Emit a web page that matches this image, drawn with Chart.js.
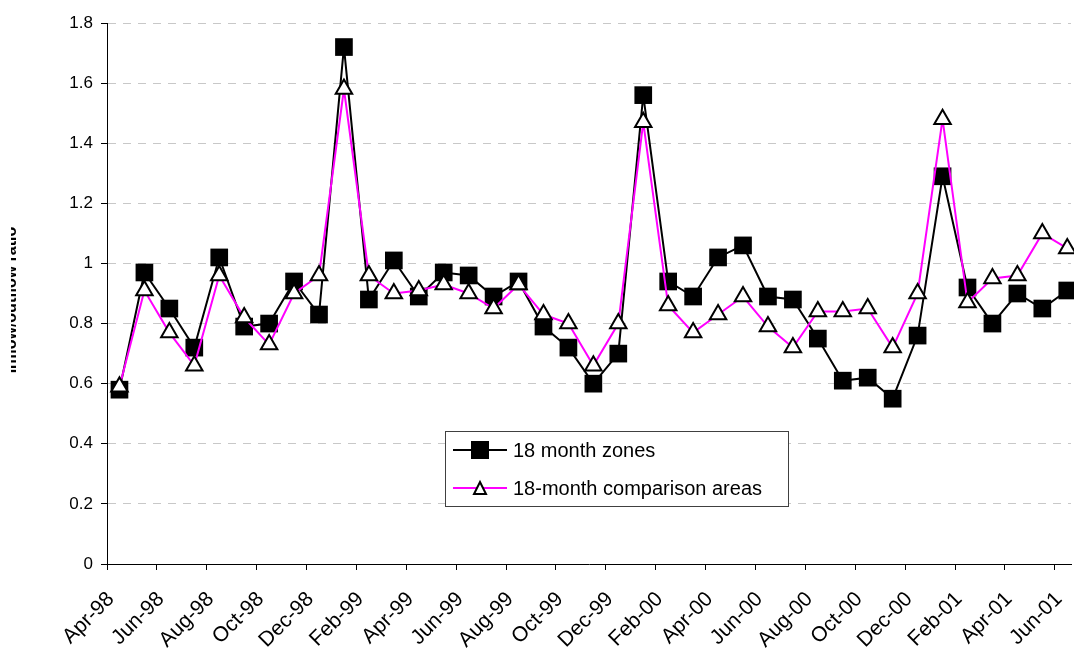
<!DOCTYPE html>
<html>
<head>
<meta charset="utf-8">
<script src="https://cdn.jsdelivr.net/npm/chart.js@4"></script>
<style>
  html, body { margin: 0; padding: 0; background: #fff; }
  #wrap { width: 1074px; height: 652px; }
</style>
</head>
<body>
<div id="wrap"><canvas id="chart" width="1074" height="652"></canvas></div>
<script>
// tick labels every 2 months, Apr-98 .. Jun-01
const tickLabels = ['Apr-98', 'Jun-98', 'Aug-98', 'Oct-98', 'Dec-98', 'Feb-99', 'Apr-99', 'Jun-99',
  'Aug-99', 'Oct-99', 'Dec-99', 'Feb-00', 'Apr-00', 'Jun-00', 'Aug-00', 'Oct-00', 'Dec-00',
  'Feb-01', 'Apr-01', 'Jun-01'];

// monthly values, one per month from Apr-98 (plotted mid-month)
const zones = [0.58, 0.97, 0.85, 0.72, 1.02, 0.79, 0.80, 0.94, 0.83, 1.72, 0.88, 1.01, 0.89,
  0.97, 0.96, 0.89, 0.94, 0.79, 0.72, 0.60, 0.70, 1.56, 0.94, 0.89, 1.02, 1.06, 0.89, 0.88,
  0.75, 0.61, 0.62, 0.55, 0.76, 1.29, 0.92, 0.80, 0.90, 0.85, 0.91];
const comparison = [0.59, 0.91, 0.77, 0.66, 0.96, 0.82, 0.73, 0.90, 0.96, 1.58, 0.96, 0.90, 0.91,
  0.93, 0.90, 0.85, 0.93, 0.83, 0.80, 0.66, 0.80, 1.47, 0.86, 0.77, 0.83, 0.89, 0.79, 0.72,
  0.84, 0.84, 0.85, 0.72, 0.90, 1.48, 0.87, 0.95, 0.96, 1.10, 1.05];

const seriesNames = ['18 month zones', '18-month comparison areas'];
const yTitle = 'Inflow/outflow ratio';

const FONT = '"Liberation Sans", Arial, sans-serif';
Chart.defaults.font.family = FONT;
Chart.defaults.color = '#000';

const toPoints = arr => arr.map((v, i) => ({ x: i + 0.5, y: v }));

// legend box sitting inside the plot, like the original
const boxLegend = {
  id: 'boxLegend',
  afterDatasetsDraw(chart) {
    const ctx = chart.ctx;
    const x = 445, y = 431, w = 343, h = 75;
    ctx.save();
    ctx.fillStyle = '#fff';
    ctx.fillRect(x, y, w, h);
    ctx.strokeStyle = '#404040';
    ctx.lineWidth = 1;
    ctx.strokeRect(x + 0.5, y + 0.5, w, h);

    chart.data.datasets.forEach((ds, i) => {
      const cy = y + 19 + i * 38;
      const cx = x + 35;
      ctx.strokeStyle = ds.borderColor;
      ctx.lineWidth = 2;
      ctx.beginPath();
      ctx.moveTo(x + 8, cy);
      ctx.lineTo(x + 62, cy);
      ctx.stroke();

      ctx.fillStyle = ds.pointBackgroundColor;
      ctx.strokeStyle = ds.pointBorderColor;
      if (ds.pointStyle === 'rect') {
        ctx.fillRect(cx - 9, cy - 9, 18, 18);
      } else {
        ctx.beginPath();
        ctx.moveTo(cx, cy - 6);
        ctx.lineTo(cx + 6, cy + 6);
        ctx.lineTo(cx - 6, cy + 6);
        ctx.closePath();
        ctx.fill();
        ctx.stroke();
      }

      ctx.fillStyle = '#000';
      ctx.font = '20px ' + FONT;
      ctx.textBaseline = 'middle';
      ctx.textAlign = 'left';
      ctx.fillText(ds.label, x + 68, cy + 1);
    });
    ctx.restore();
  }
};

// axis title, mostly cut off at the left edge in the original
const sideTitle = {
  id: 'sideTitle',
  afterDraw(chart) {
    const ctx = chart.ctx;
    ctx.save();
    ctx.beginPath();
    ctx.rect(11, 0, 12, chart.height);
    ctx.clip();
    ctx.translate(16, 300);
    ctx.rotate(-Math.PI / 2);
    ctx.font = 'bold 16px ' + FONT;
    ctx.fillStyle = '#000';
    ctx.textAlign = 'center';
    ctx.textBaseline = 'alphabetic';
    ctx.fillText(yTitle, 0, 0);
    ctx.restore();
  }
};

new Chart(document.getElementById('chart').getContext('2d'), {
  type: 'line',
  data: {
    datasets: [{
      label: seriesNames[0],
      data: toPoints(zones),
      borderColor: '#000',
      borderWidth: 2,
      pointStyle: 'rect',
      pointRadius: 12.5,
      pointBackgroundColor: '#000',
      pointBorderColor: '#000',
      pointBorderWidth: 0,
      tension: 0,
      clip: false,
      order: 1
    }, {
      label: seriesNames[1],
      data: toPoints(comparison),
      borderColor: '#ff00ff',
      borderWidth: 2,
      pointStyle: 'triangle',
      pointRadius: 9.5,
      pointBackgroundColor: '#fff',
      pointBorderColor: '#000',
      pointBorderWidth: 2,
      tension: 0,
      clip: false,
      order: 0
    }]
  },
  options: {
    responsive: false,
    animation: false,
    events: [],
    layout: { autoPadding: false, padding: { left: 0, right: 3, top: 23, bottom: 0 } },
    plugins: {
      legend: { display: false },
      tooltip: { enabled: false }
    },
    scales: {
      x: {
        type: 'linear',
        min: 0,
        max: 38.65,
        grid: { drawOnChartArea: false, color: '#000', tickLength: 6, tickBorderDash: [] },
        border: { color: '#000', width: 1 },
        ticks: {
          stepSize: 2,
          includeBounds: false,
          autoSkip: false,
          minRotation: 45,
          maxRotation: 45,
          padding: 17,
          labelOffset: 4,
          font: { size: 21 },
          callback: v => tickLabels[v / 2]
        },
        afterFit: s => {
          s.height = 88;
          s.paddingRight = 3;
          s.paddingLeft = 0;
        }
      },
      y: {
        min: 0,
        max: 1.8,
        grid: {
          color: c => (c.tick && c.tick.value === 0) ? 'rgba(0,0,0,0)' : '#c8c8c8',
          tickColor: '#000',
          tickLength: 6,
          tickBorderDash: []
        },
        border: { color: '#000', width: 1, dash: [8, 7] },
        ticks: {
          stepSize: 0.2,
          padding: 8,
          font: { size: 17 },
          callback: v => String(Math.round(v * 10) / 10)
        },
        afterFit: s => { s.width = 107; }
      }
    }
  },
  plugins: [boxLegend, sideTitle]
});
</script>
</body>
</html>
